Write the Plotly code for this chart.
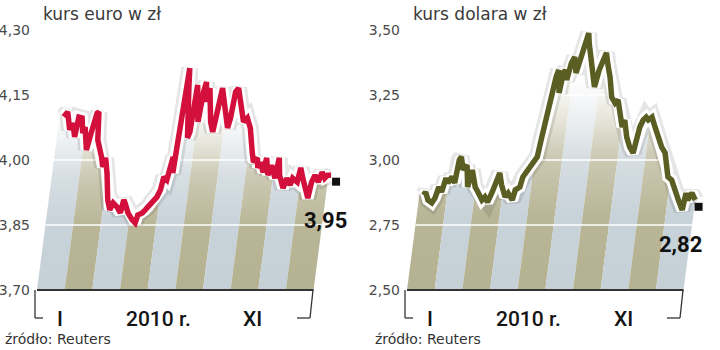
import plotly.graph_objects as go

# ---------------- data (day of year 2010, rate in PLN) ----------------
EUR_DAYS = [4, 8, 13, 16, 20, 22, 26, 29, 31, 36, 39, 41, 43, 45, 48, 55, 58, 60, 64, 69,
            73, 76, 81, 86, 88, 90, 95, 101, 105, 107, 112, 115, 118, 123, 127, 130, 132, 136, 138, 140,
            142, 143, 144, 145, 146, 148, 154, 156, 158, 161, 164, 166, 168, 171, 173, 179, 183, 185, 186, 188,
            190, 195, 200, 202, 204, 207, 211, 215, 218, 222, 227, 233, 236, 240, 242, 244, 249, 251, 255, 258,
            264, 266, 269, 275, 278, 283, 285, 291, 293, 297, 306, 308, 311, 316, 319, 323, 326, 330]
EUR_RATES = [4.100, 4.111, 4.070, 4.085, 4.053, 4.099, 4.097, 4.062, 4.076, 4.023,
             4.062, 4.092, 4.108, 4.111, 4.046, 4.007, 3.984, 4.005, 3.970, 3.908,
             3.885, 3.901, 3.892, 3.878, 3.908, 3.901, 3.878, 3.862, 3.855, 3.873,
             3.878, 3.885, 3.892, 3.908, 3.915, 3.931, 3.961, 3.954, 3.977, 4.007,
             3.970, 4.023, 4.076, 4.138, 4.212, 4.166, 4.051, 4.065, 4.173, 4.127,
             4.088, 4.157, 4.180, 4.134, 4.166, 4.088, 4.065, 4.104, 4.143, 4.166,
             4.150, 4.111, 4.074, 4.097, 4.157, 4.166, 4.134, 4.104, 4.088, 4.097,
             4.074, 4.018, 3.995, 4.005, 3.982, 3.995, 3.972, 4.005, 3.965, 3.988,
             3.958, 4.005, 3.965, 3.935, 3.958, 3.942, 3.958, 3.949, 3.982, 3.958,
             3.912, 3.949, 3.965, 3.949, 3.972, 3.958, 3.965, 3.965]

USD_DAYS = [4, 6, 10, 15, 18, 21, 25, 28, 31, 35, 39, 41, 43, 47, 51, 55, 58, 64, 68, 74,
            77, 81, 85, 89, 91, 95, 101, 104, 110, 112, 117, 119, 124, 128, 133, 135, 137, 139, 141, 143,
            145, 147, 149, 151, 153, 156, 159, 162, 166, 169, 171, 173, 175, 177, 184, 190, 193, 196, 199, 202,
            207, 212, 217, 220, 224, 229, 231, 236, 241, 246, 248, 250, 253, 256, 259, 263, 268, 273, 279, 284,
            288, 291, 296, 301, 307, 313, 315, 318, 322, 327]
USD_RATES = [2.865, 2.877, 2.846, 2.835, 2.854, 2.896, 2.877, 2.931, 2.912, 2.935,
             2.912, 3.000, 3.012, 2.962, 2.981, 2.896, 2.962, 2.896, 2.877, 2.846,
             2.858, 2.838, 2.877, 2.915, 2.950, 2.904, 2.858, 2.873, 2.846, 2.885,
             2.896, 2.935, 2.962, 2.988, 3.012, 3.077, 3.135, 3.219, 3.281, 3.319,
             3.346, 3.296, 3.258, 3.335, 3.346, 3.308, 3.373, 3.396, 3.335, 3.385,
             3.423, 3.462, 3.488, 3.450, 3.358, 3.281, 3.346, 3.385, 3.412, 3.373,
             3.319, 3.242, 3.219, 3.231, 3.181, 3.127, 3.154, 3.088, 3.050, 3.027,
             3.077, 3.127, 3.154, 3.165, 3.154, 3.165, 3.127, 3.088, 3.050, 3.027,
             2.973, 2.935, 2.923, 2.885, 2.846, 2.808, 2.873, 2.846, 2.873, 2.846]

EUR_LAST_DAY, EUR_LAST = 337, 3.95
USD_LAST_DAY, USD_LAST = 332, 2.82

EUR_TICKS = [3.70, 3.85, 4.00, 4.15, 4.30]
USD_TICKS = [2.50, 2.75, 3.00, 3.25, 3.50]
X_LABELS = ["I", "2010 r.", "XI"]
TITLES = ["kurs euro w zł", "kurs dolara w zł"]
SOURCE = "źródło: Reuters"

# ---------------- layout constants ----------------
W, H = 720, 350
TOP_PX, BOT_PX, PAD_PX = 30, 290, 8
PANEL_X0 = [37, 407]
DOMAIN_W = 308
DPP = 1.186                     # days per pixel
X0 = -1.0
X1 = X0 + DOMAIN_W * DPP
REGION = (-1.0, 327.0)          # striped band along the time axis
N_STRIPES = 10
SKEW = 0.13                     # slant of the drawing (px right per px up)
STRIPES = [["#c5d0d7", "#b5b292"], ["#b5b292", "#c5d0d7"]]
FADE_TOP = [4.12, 3.32]
LINE_COLORS = ["#d2103b", "#5b5e23"]
LABEL_POS = [(325, 220), (680, 245)]


def blend(hexcol, t):
    """mix a hex colour with white, t=0 -> colour, t=1 -> white"""
    r, g, b = (int(hexcol[k:k + 2], 16) for k in (1, 3, 5))
    r, g, b = (round(c + (255 - c) * t) for c in (r, g, b))
    return f"rgb({r},{g},{b})"


panels = [
    (EUR_DAYS, EUR_RATES, EUR_TICKS, EUR_LAST_DAY, EUR_LAST),
    (USD_DAYS, USD_RATES, USD_TICKS, USD_LAST_DAY, USD_LAST),
]

fig = go.Figure()
annotations = []
shapes = []


def px(x):
    return x / W


def py(y):
    return 1 - y / H


for i, (days, rates, ticks, last_day, last_val) in enumerate(panels):
    xa = "x" if i == 0 else "x2"
    ya = "y" if i == 0 else "y2"
    vmin, vmax = ticks[0], ticks[-1]
    pxu = (BOT_PX - TOP_PX) / (vmax - vmin)
    ylo, yhi = vmin - PAD_PX / pxu, vmax + PAD_PX / pxu

    def shear(v, vmin=vmin, pxu=pxu):
        return SKEW * (v - vmin) * pxu * DPP

    # slanted stripes with vertical fade
    f1 = FADE_TOP[i]
    w = (REGION[1] - REGION[0]) / N_STRIPES
    st = shear(f1)
    for j in range(N_STRIPES):
        a = REGION[0] + j * w
        b = a + w
        col = STRIPES[i][j % 2]
        cs = [[0, blend(col, 0.0)], [0.35, blend(col, 0.05)], [0.62, blend(col, 0.3)],
              [0.82, blend(col, 0.7)], [1, "rgb(255,255,255)"]]
        fig.add_trace(go.Scatter(
            x=[a, b, b + st, a + st, a], y=[vmin, vmin, f1, f1, vmin],
            xaxis=xa, yaxis=ya, mode="lines", line=dict(width=0),
            fill="toself",
            fillgradient=dict(type="vertical", colorscale=cs),
            hoverinfo="skip", showlegend=False))

    # white gridlines across stripes
    gx, gy = [], []
    for v in ticks[1:]:
        gx += [REGION[0] + shear(v), REGION[1] + shear(v), None]
        gy += [v, v, None]
    fig.add_trace(go.Scatter(x=gx, y=gy, xaxis=xa, yaxis=ya, mode="lines",
                             line=dict(color="white", width=1.5),
                             hoverinfo="skip", showlegend=False))

    sx = [d + shear(v) for d, v in zip(days, rates)]

    # white mask above the line
    mx = [X0 - 50] + sx + [X1 + 50, X1 + 50, X0 - 50]
    my = [rates[0]] + rates + [rates[-1], yhi + 1, yhi + 1]
    fig.add_trace(go.Scatter(x=mx, y=my, xaxis=xa, yaxis=ya, mode="lines",
                             line=dict(width=0), fill="toself", fillcolor="white",
                             hoverinfo="skip", showlegend=False))

    # baseline
    fig.add_trace(go.Scatter(x=[REGION[0] - 2 * DPP, REGION[1]], y=[vmin, vmin],
                             xaxis=xa, yaxis=ya, mode="lines",
                             line=dict(color="#333333", width=2),
                             hoverinfo="skip", showlegend=False))

    # line with glow, halo, core
    fig.add_trace(go.Scatter(x=sx, y=rates, xaxis=xa, yaxis=ya, mode="lines",
                             line=dict(color="rgba(0,0,0,0.10)", width=17),
                             hoverinfo="skip", showlegend=False))
    fig.add_trace(go.Scatter(x=sx, y=rates, xaxis=xa, yaxis=ya, mode="lines",
                             line=dict(color="white", width=11.5),
                             hoverinfo="skip", showlegend=False))
    fig.add_trace(go.Scatter(x=sx, y=rates, xaxis=xa, yaxis=ya, mode="lines",
                             line=dict(color=LINE_COLORS[i], width=5.5),
                             showlegend=False))
    # last value marker
    fig.add_trace(go.Scatter(x=[last_day + shear(last_val)], y=[last_val],
                             xaxis=xa, yaxis=ya, mode="markers",
                             marker=dict(symbol="square", size=8, color="#111111"),
                             showlegend=False, cliponaxis=False))

    x0p = PANEL_X0[i]
    dom_x = [px(x0p), px(x0p + DOMAIN_W)]
    dom_y = [py(BOT_PX + PAD_PX), py(TOP_PX - PAD_PX)]
    xkey = "xaxis" if i == 0 else "xaxis2"
    ykey = "yaxis" if i == 0 else "yaxis2"
    fig.update_layout(**{
        xkey: dict(domain=dom_x, range=[X0, X1], visible=False, fixedrange=True,
                   anchor=ya),
        ykey: dict(domain=dom_y, range=[ylo, yhi], anchor=xa,
                   tickvals=ticks, tickformat=".2f", showgrid=False,
                   zeroline=False, showline=False, ticks="",
                   ticklabelstandoff=6,
                   tickfont=dict(family="DejaVu Sans", size=14, color="#4a4a4a"),
                   fixedrange=True),
    })

    off = x0p - PANEL_X0[0]
    # title
    annotations.append(dict(text=TITLES[i], x=px(41 + off), y=py(14), xref="paper",
                            yref="paper", xanchor="left", yanchor="middle", showarrow=False,
                            font=dict(family="DejaVu Sans", size=17, color="#3a3a3a")))
    # x labels
    for lab, cx in zip(X_LABELS, [60, 158, 253]):
        annotations.append(dict(text=lab, x=px(cx + off), y=py(319), xref="paper",
                                yref="paper", xanchor="center", yanchor="middle",
                                showarrow=False,
                                font=dict(family="Roboto", size=21, color="#151515",
                                          weight=500)))
    # source
    annotations.append(dict(text=SOURCE, x=px(3 + off), y=py(339), xref="paper",
                            yref="paper", xanchor="left", yanchor="middle", showarrow=False,
                            font=dict(family="DejaVu Sans", size=14, color="#333333")))
    # last value label
    lx, ly = LABEL_POS[i]
    annotations.append(dict(text=f"{last_val:.2f}".replace(".", ","), x=px(lx), y=py(ly),
                            xref="paper", yref="paper", xanchor="center", yanchor="middle",
                            showarrow=False,
                            font=dict(family="Roboto", size=22, color="#111111", weight=700)))
    # brackets under the axis
    bc = dict(color="#333333", width=1.3)
    shapes += [
        dict(type="line", xref="paper", yref="paper", x0=px(35 + off), y0=py(BOT_PX),
             x1=px(35 + off), y1=py(318), line=bc),
        dict(type="line", xref="paper", yref="paper", x0=px(35 + off), y0=py(318),
             x1=px(43 + off), y1=py(318), line=bc),
        dict(type="line", xref="paper", yref="paper", x0=px(297 + off), y0=py(318),
             x1=px(310 + off), y1=py(318), line=bc),
        dict(type="line", xref="paper", yref="paper", x0=px(310 + off), y0=py(318),
             x1=px(313 + off), y1=py(BOT_PX), line=bc),
    ]

fig.update_layout(
    width=W, height=H, margin=dict(l=0, r=0, t=0, b=0),
    paper_bgcolor="white", plot_bgcolor="white",
    separators=", ", showlegend=False,
    annotations=annotations, shapes=shapes,
)

fig.write_html("out.html", config={"displayModeBar": False, "staticPlot": True})
